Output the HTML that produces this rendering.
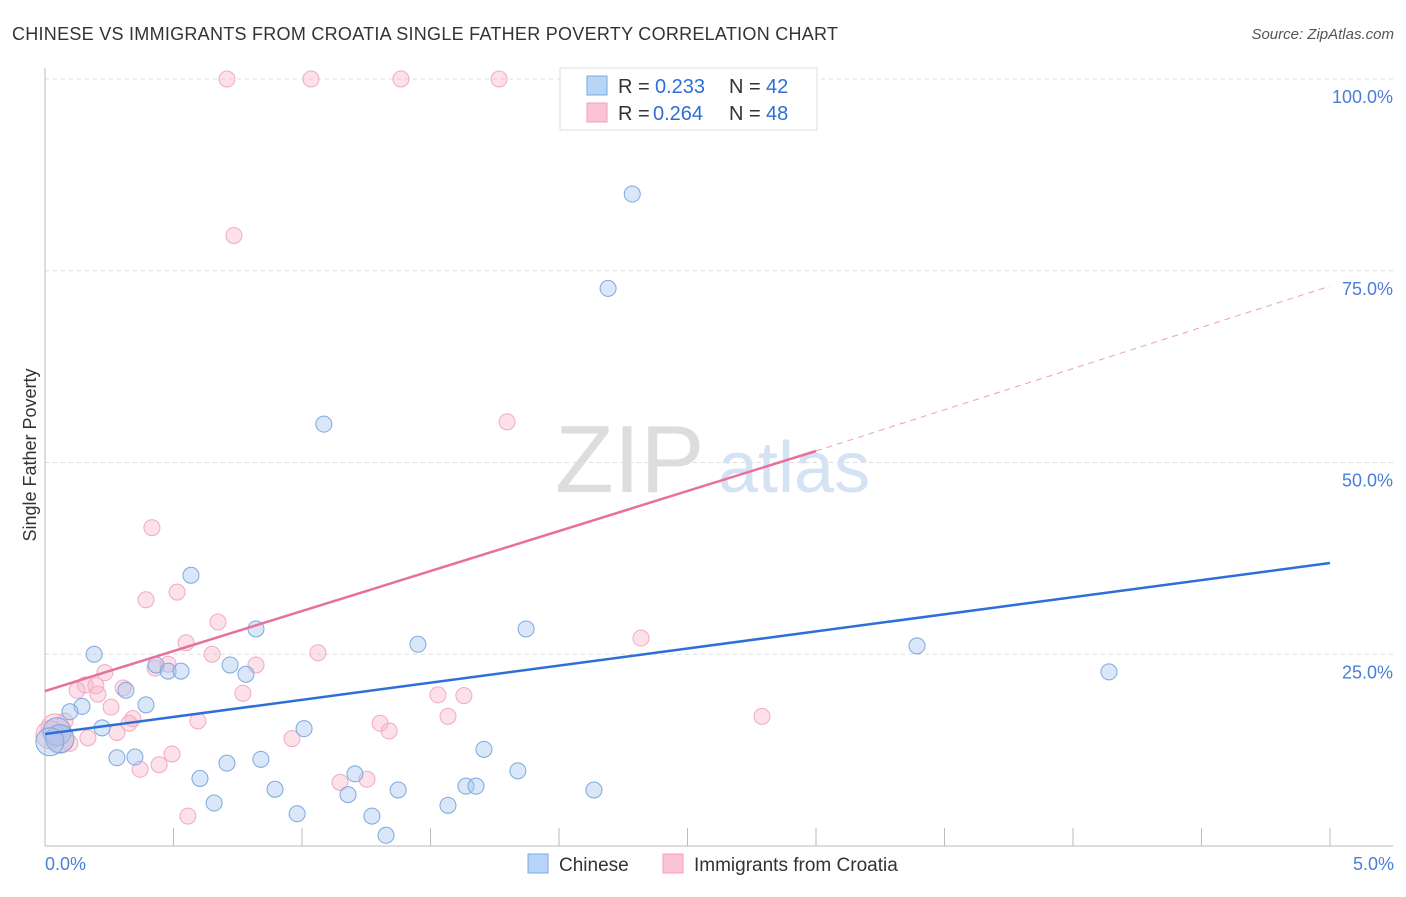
<!DOCTYPE html>
<html><head><meta charset="utf-8">
<style>
body{margin:0;background:#fff;font-family:"Liberation Sans",sans-serif;}
svg text{font-family:"Liberation Sans",sans-serif;}
</style></head>
<body>
<svg width="1406" height="892" xmlns="http://www.w3.org/2000/svg">
<text x="12" y="40" font-size="18" fill="#333" textLength="826">CHINESE VS IMMIGRANTS FROM CROATIA SINGLE FATHER POVERTY CORRELATION CHART</text>
<text x="1394" y="39" font-size="15" fill="#555" text-anchor="end" font-style="italic">Source: ZipAtlas.com</text>
<g id="grid"></g>
<text x="555" y="492" font-size="96" fill="#ddd" font-family="Liberation Serif">ZIP</text>
<text x="718" y="492" font-size="72" fill="#d4e2f4">atlas</text>
<g id="pts"></g>
<g id="lines"></g>
<text x="36" y="455" font-size="18" fill="#333" text-anchor="middle" transform="rotate(-90 36 455)">Single Father Poverty</text>
<text x="45" y="870" font-size="18" fill="#4a7fd6">0.0%</text>
<text x="1394" y="870" font-size="18" fill="#4a7fd6" text-anchor="end">5.0%</text>
<g>
<rect x="560" y="68" width="257" height="62" fill="#fff" stroke="#ddd"/>
<rect x="587" y="76" width="20" height="19" fill="#b8d4f6" stroke="#7aaae0"/>
<rect x="587" y="103" width="20" height="19" fill="#fbc4d6" stroke="#f0a0b8"/>
<text x="618" y="93" font-size="20" fill="#333">R =</text>
<text x="655" y="93" font-size="20" fill="#2d6fd6">0.233</text>
<text x="729" y="93" font-size="20" fill="#333">N =</text>
<text x="766" y="93" font-size="20" fill="#2d6fd6">42</text>
<text x="618" y="120" font-size="20" fill="#333">R =</text>
<text x="653" y="120" font-size="20" fill="#2d6fd6">0.264</text>
<text x="729" y="120" font-size="20" fill="#333">N =</text>
<text x="766" y="120" font-size="20" fill="#2d6fd6">48</text>
</g>
<g>
<rect x="528" y="854" width="20" height="19" fill="#b8d4f6" stroke="#7aaae0"/>
<text x="559" y="871" font-size="19" fill="#333">Chinese</text>
<rect x="663" y="854" width="20" height="19" fill="#fbc4d6" stroke="#f0a0b8"/>
<text x="694" y="871" font-size="19" fill="#333">Immigrants from Croatia</text>
</g>
</svg>
<script>
const yTicks=[25,50,75,100];
const yTickLabels=["25.0%","50.0%","75.0%","100.0%"];
const xTicks=[0,0.5,1,1.5,2,2.5,3,3.5,4,4.5,5];
const chineseX=[2.285,2.191,1.085,0.568,0.821,1.872,1.451,3.393,4.140,0.191,0.432,0.479,0.529,0.720,0.782,0.315,0.393,0.144,0.097,0.222,1.008,0.047,0.058,0.019,0.280,0.350,0.840,0.708,1.708,1.840,1.206,0.603,1.638,1.677,0.895,1.179,1.374,2.136,0.658,0.981,1.272,1.568,1.327];
const chineseY=[85.0,72.7,55.0,35.3,28.3,28.3,26.3,26.1,22.7,25.0,23.6,22.8,22.8,23.6,22.4,20.3,18.4,18.2,17.5,15.4,15.3,14.9,14.0,13.6,11.5,11.6,11.3,10.8,12.6,9.8,9.4,8.8,7.8,7.8,7.4,6.7,7.3,7.3,5.6,4.2,3.9,5.3,1.4];
const croatiaX=[0.708,1.035,1.385,1.767,0.735,1.798,0.416,0.393,0.514,0.673,2.319,0.549,1.062,0.650,0.821,0.479,0.428,0.233,0.156,0.125,0.198,0.304,0.206,0.770,1.529,1.630,0.257,0.595,0.342,0.327,1.304,1.568,1.339,2.790,0.078,0.039,0.167,0.961,0.280,0.097,0.494,0.444,0.370,1.148,1.253,0.556,0.019,0.058];
const croatiaY=[100,100,100,100,79.6,55.3,41.5,32.1,33.1,29.2,27.1,26.5,25.2,25.0,23.6,23.7,23.2,22.6,21.0,20.3,20.9,20.6,19.8,19.9,19.7,19.6,18.1,16.3,16.6,16.0,16.0,16.9,15.0,16.9,16.3,15.4,14.1,14.0,14.8,13.4,12.0,10.6,10.0,8.3,8.7,3.9,14.5,13.9];
const chineseTrend=[[0,14.6],[5,36.9]];
const croatiaTrend=[[0,20.2],[3,51.5]];
const croatiaTrendExt=[[3,51.5],[5,73.0]];
const X0=45,X1=1330,Y0=846,Y100=79;
const xs=v=>X0+(X1-X0)*v/5;
const ys=v=>Y0-(Y0-Y100)*v/100;
const NS="http://www.w3.org/2000/svg";
function mk(tag,attrs,parent){const e=document.createElementNS(NS,tag);for(const k in attrs)e.setAttribute(k,attrs[k]);parent.appendChild(e);return e;}
const grid=document.getElementById('grid');
yTicks.forEach((t,i)=>{
 const l=mk('line',{x1:X0,x2:1393,y1:ys(t),y2:ys(t),stroke:'#ddd','stroke-dasharray':'4,4'},grid);
 
 
 const tx=mk('text',{x:1393,y:ys(t)+24,'font-size':18,fill:'#4a7fd6','text-anchor':'end'},grid);
 tx.textContent=yTickLabels[i];
 
 
});
const ax=mk('line',{x1:X0,x2:X0,y1:68,y2:Y0,stroke:'#bbb'},grid);


const bx=mk('line',{x1:X0,x2:1393,y1:Y0,y2:Y0,stroke:'#bbb'},grid);


xTicks.forEach(t=>{const l=mk('line',{x1:xs(t),x2:xs(t),y1:Y0,y2:Y0-18,stroke:'#bbb'},grid);
 
 });
const pts=document.getElementById('pts');
function dots(X,Y,fill,stroke,name){X.forEach((x,i)=>{
 const big=(x<0.07&&Y[i]>12&&Y[i]<16);
 const c=mk('circle',{cx:xs(x),cy:ys(Y[i]),r:big?14:8,fill:fill,stroke:stroke,'stroke-width':1},pts);
 
 });}
dots(croatiaX,croatiaY,'rgba(248,180,200,0.4)','#f2aac0','croatia-point');
dots(chineseX,chineseY,'rgba(160,196,240,0.4)','#7ea8de','chinese-point');
const lines=document.getElementById('lines');
function line(p,col,name,dash){const l=mk('line',{x1:xs(p[0][0]),y1:ys(p[0][1]),x2:xs(p[1][0]),y2:ys(p[1][1]),stroke:col,'stroke-width':dash?1:2.5},lines);
 if(dash)l.setAttribute('stroke-dasharray','6,5');
 
 }
line(chineseTrend,'#2d6fd6','chinese-trend');
line(croatiaTrend,'#e8709a','croatia-trend');
line(croatiaTrendExt,'#eaa0ba','croatia-trend-extension',true);
</script>
</body></html>
